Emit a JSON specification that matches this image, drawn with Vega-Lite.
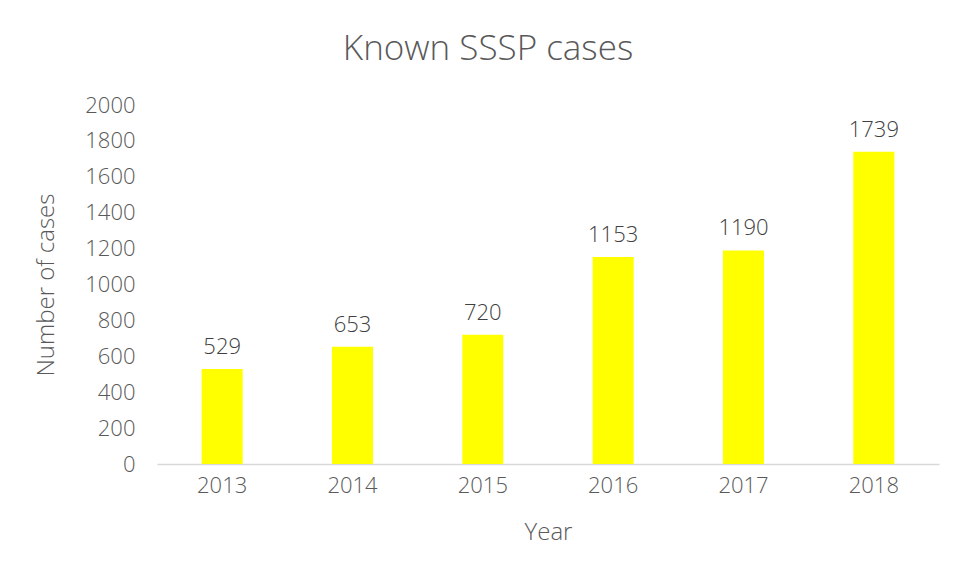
{
  "$schema": "https://vega.github.io/schema/vega-lite/v6.json",
  "width": 782,
  "height": 359,
  "autosize": {"type": "none"},
  "padding": {"left": 157, "top": 105, "right": 18, "bottom": 114},
  "background": "white",
  "config": {"view": {"stroke": null}, "font": "Open Sans"},
  "title": {
    "text": "Known SSSP cases",
    "fontSize": 35,
    "fontWeight": 300,
    "color": "#595959",
    "font": "Open Sans",
    "anchor": "middle",
    "dx": -60,
    "offset": 27
  },
  "data": {
    "values": [
      {"year": "2013", "cases": 529},
      {"year": "2014", "cases": 653},
      {"year": "2015", "cases": 720},
      {"year": "2016", "cases": 1153},
      {"year": "2017", "cases": 1190},
      {"year": "2018", "cases": 1739}
    ]
  },
  "encoding": {
    "x": {
      "field": "year",
      "type": "ordinal",
      "scale": {"paddingInner": 0.685, "paddingOuter": 0.3425},
      "axis": {
        "title": "Year",
        "titleFontSize": 24,
        "titleFontWeight": 300,
        "titleColor": "#595959",
        "titlePadding": 24,
        "labelAngle": 0,
        "labelFontSize": 22,
        "labelFontWeight": 300,
        "labelColor": "#595959",
        "labelPadding": 11,
        "ticks": false,
        "domainColor": "#d9d9d9",
        "domainWidth": 1.5
      }
    },
    "y": {
      "field": "cases",
      "type": "quantitative",
      "scale": {"domain": [0, 2000]},
      "axis": {
        "title": "Number of cases",
        "titleFontSize": 24,
        "titleFontWeight": 300,
        "titleColor": "#595959",
        "titlePadding": 26,
        "format": "d",
        "values": [0, 200, 400, 600, 800, 1000, 1200, 1400, 1600, 1800, 2000],
        "labelFontSize": 22,
        "labelFontWeight": 300,
        "labelColor": "#595959",
        "labelPadding": 22,
        "ticks": false,
        "domain": false,
        "grid": false
      }
    }
  },
  "layer": [
    {"mark": {"type": "bar", "color": "#FFFF00"}},
    {
      "mark": {"type": "text", "baseline": "bottom", "dy": -10, "fontSize": 22, "fontWeight": 300, "color": "#404040", "font": "Open Sans"},
      "encoding": {"text": {"field": "cases", "type": "quantitative", "format": "d"}}
    }
  ]
}
